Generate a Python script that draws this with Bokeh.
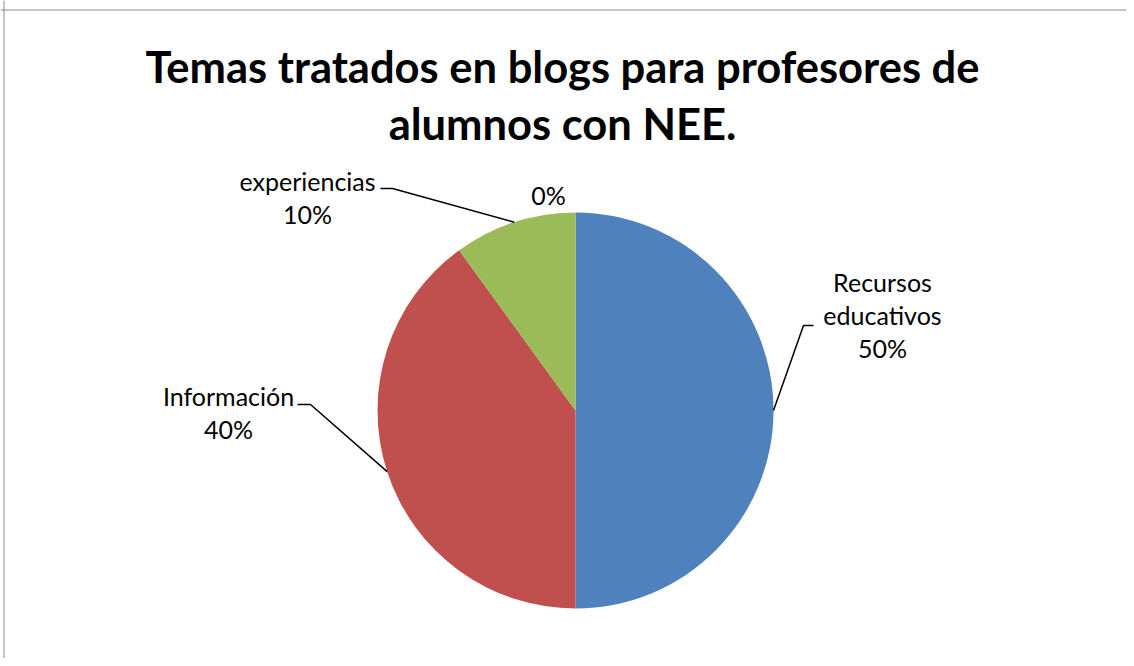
import math
from bokeh.plotting import figure
from bokeh.models import Range1d, Span
from bokeh.core.properties import value
from bokeh.embed import file_html
from bokeh.resources import INLINE

# ---- data ----
title_lines = ["Temas tratados en blogs para profesores de", "alumnos con NEE."]
categories = ["Recursos educativos", "Información", "experiencias", ""]
values = [50, 40, 10, 0]
colors = ["#4F81BD", "#C0504D", "#9BBB59", "#8064A2"]
# how category names wrap in the labels
label_names = [["Recursos", "educativos"], ["Información"], ["experiencias"], []]

W, H = 1126, 658


def Y(py):
    return H - py


p = figure(width=W, height=H, output_backend="svg", toolbar_location=None,
           x_range=Range1d(0, W), y_range=Range1d(0, H),
           min_border=0, outline_line_color=None)
p.axis.visible = False
p.grid.visible = False
p.background_fill_color = "white"
p.border_fill_color = "white"

# border (top and left visible in reference)
p.add_layout(Span(location=Y(9.5), dimension="width", line_color="#8a8a8a", line_width=1))
p.add_layout(Span(location=3.5, dimension="height", line_color="#8a8a8a", line_width=1))

FONT = "Lato"
TSHIFT = 10  # text baseline correction

# title
for i, t in enumerate(title_lines):
    p.text(x=[562], y=[Y(75 - TSHIFT + i * 57)], text=[t], text_font=value(FONT),
           text_font_style="bold", text_font_size="43.5px", text_align="center",
           text_baseline="alphabetic", text_color="black")

# pie
cx, cy, r = 575, Y(410), 198
total = sum(values)
start = 90.0
starts, ends, mids = [], [], []
for v in values:
    sweep = 360.0 * v / total
    end = start - sweep
    starts.append(math.radians(start))
    ends.append(math.radians(end))
    mids.append(math.radians((start + end) / 2))
    start = end

idx = [i for i, v in enumerate(values) if v > 0]
p.wedge(x=[cx] * len(idx), y=[cy] * len(idx), radius=r,
        start_angle=[starts[i] for i in idx], end_angle=[ends[i] for i in idx],
        direction="clock", fill_color=[colors[i] for i in idx], line_color=None)

# labels
pct = [f"{round(100 * v / total)}%" for v in values]
LS = 33  # line spacing
FS = "25px"
layouts = [
    dict(x=882, y=291, elbow=(803, 325), tail=(813, 325)),
    dict(x=228, y=405, elbow=(310, 404), tail=(297, 404)),
    dict(x=307, y=190, elbow=(392, 188), tail=(380, 188)),
    dict(x=548, y=204, elbow=None, tail=None),
]
for i in range(len(values)):
    L = layouts[i]
    lines = label_names[i] + [pct[i]]
    for j, t in enumerate(lines):
        p.text(x=[L["x"]], y=[Y(L["y"] - TSHIFT + j * LS)], text=[t], text_font=value(FONT),
               text_font_size=FS, text_align="center", text_baseline="alphabetic",
               text_color="black")
    if L["elbow"] is not None:
        ax = cx + r * math.cos(mids[i])
        ay = cy + r * math.sin(mids[i])
        ex, ey = L["elbow"]
        tx, ty = L["tail"]
        p.line(x=[ax, ex, tx], y=[ay, Y(ey), Y(ty)], line_color="black", line_width=1.5)

open("out.html", "w").write(file_html(p, INLINE))
